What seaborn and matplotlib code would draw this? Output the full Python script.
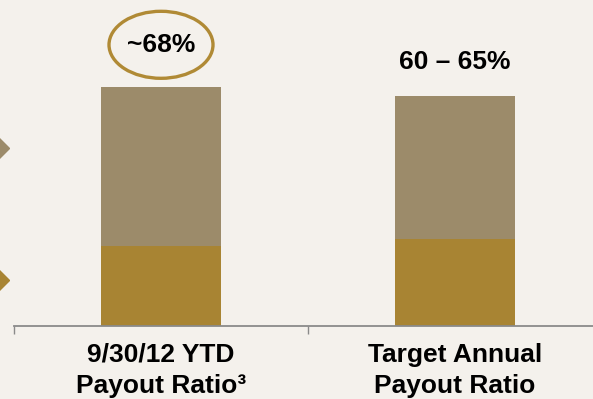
import matplotlib
matplotlib.use("Agg")
import matplotlib.pyplot as plt
import seaborn as sns
import pandas as pd
from matplotlib.patches import Ellipse
from matplotlib.lines import Line2D

categories = ["9/30/12 YTD\nPayout Ratio\u00b3", "Target Annual\nPayout Ratio"]
totals = [68, 65.4]
lower = [22.8, 24.8]
labels = ["~68%", "60 \u2013 65%"]

BG = "#F4F1EC"
TAN = "#9C8B6A"
GOLD = "#A88433"

sns.set_theme(style="white")
plt.rcParams["font.family"] = ["Liberation Sans", "DejaVu Sans"]

fig = plt.figure(figsize=(5.93, 3.99), dpi=100, facecolor=BG)
ax = fig.add_axes([14/593, 1-326/399, 588/593, 326/399])
ax.set_facecolor(BG)

df = pd.DataFrame({"cat": categories, "total": totals, "lower": lower})
sns.barplot(data=df, x="cat", y="total", color=TAN, width=0.405, ax=ax,
            saturation=1, linewidth=0)
sns.barplot(data=df, x="cat", y="lower", color=GOLD, width=0.405, ax=ax,
            saturation=1, linewidth=0)

ax.set_xlim(-0.5, 1.5)
ax.set_ylim(0, 326/3.515)
ax.set_xlabel("")
ax.set_ylabel("")
ax.set_yticks([])
for s in ["top", "left", "right"]:
    ax.spines[s].set_visible(False)
ax.spines["bottom"].set_color("#8A8A8A")
ax.spines["bottom"].set_linewidth(1.3)

ax.set_xticks([0, 1])
ax.set_xticklabels(categories, fontsize=19, fontweight="bold", color="black",
                   linespacing=1.4)
ax.set_xticks([-0.5, 0.5], minor=True)
ax.tick_params(axis="x", which="major", length=0, pad=12)
ax.tick_params(axis="x", which="minor", length=6, width=1, color="#8A8A8A",
               direction="out", bottom=True)

label_y = [80, 75.1]
for i, (lab, yy) in enumerate(zip(labels, label_y)):
    ax.text(i, yy, lab, ha="center", va="center", fontsize=19,
            fontweight="bold", color="black")

ell = Ellipse((0, 80), width=104/294, height=67/3.515, fill=False,
              edgecolor="#B08A35", linewidth=2.4, clip_on=False)
ax.add_patch(ell)

for yy, c in [(148, TAN), (280, GOLD)]:
    fig.add_artist(Line2D([-2/593], [1-yy/399], marker="D", markersize=11,
                          color=c, linestyle="none", transform=fig.transFigure,
                          clip_on=False))

fig.savefig("out.png", dpi=100, facecolor=BG)
